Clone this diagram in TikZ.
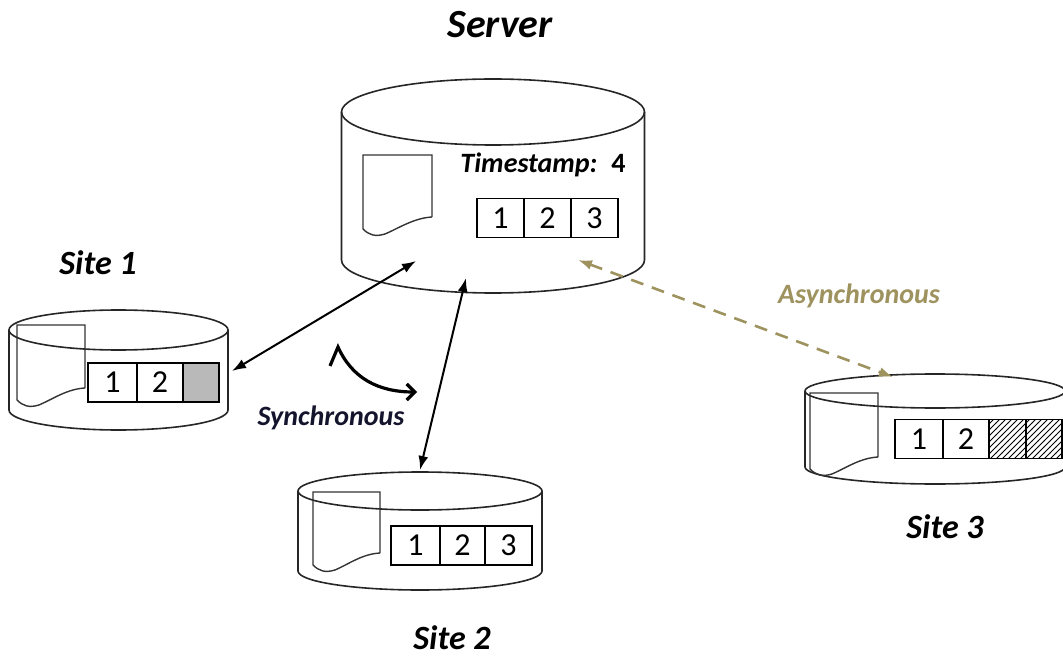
\documentclass[tikz,border=0pt]{standalone}
\usepackage{fontspec}
\setmainfont{Carlito}
\usetikzlibrary{arrows.meta,positioning,patterns}
\definecolor{asyncolive}{RGB}{158,146,94}
\definecolor{syncink}{RGB}{20,20,45}

% cylinder: centre x, top centre y, x radius, y radius, bottom centre y
\newcommand{\drum}[5]{%
  \draw[drumline] (#1-#3,#2) -- (#1-#3,#5)
    arc[start angle=180, end angle=0, x radius=#3, y radius=#4] -- (#1+#3,#2);
  \draw[drumline] (#1,#2) ellipse[x radius=#3, y radius=#4];}
% document sheet: left, top, right, lower right corner y
\newcommand{\sheet}[4]{%
  \draw[sheetline] (#3,#4) -- (#3,#2) -- (#1,#2) -- (#1,#4+12)
    .. controls (#1+6,#4+18) and (#1+12,#4+20) .. (#1+22,#4+17)
    .. controls (#1+36,#4+11) and (#3-18,#4+1) .. (#3,#4);}

\begin{document}
\begin{tikzpicture}[
  x=0.5pt, y=-0.5pt,
  drumline/.style={draw=black!85, line width=0.8pt},
  sheetline/.style={draw=black!80, line width=0.7pt},
  cell/.style={draw=black, line width=0.6pt, outer sep=0pt, inner sep=0pt, minimum height=19.5pt, font=\fontsize{16}{16}\selectfont},
  sitename/.style={anchor=base, inner sep=1pt, font=\fontsize{17}{17}\selectfont\bfseries\itshape},
  syncline/.style={{Latex[length=7pt,width=5pt]}-{Latex[length=7pt,width=5pt]}, line width=1pt, draw=black},
  asyncline/.style={{Latex[length=7pt,width=5pt]}-{Latex[length=7pt,width=5pt]}, line width=1.3pt, draw=asyncolive, dash pattern=on 6.5pt off 4.5pt},
  bendline/.style={-{Straight Barb[length=4pt,width=8pt]}, line width=1.6pt, draw=black}
]
\useasboundingbox (0,0) rectangle (1063,657);

% server
\drum{493}{112}{151.5}{33}{260}
\sheet{363}{155}{432}{217}
\node[anchor=base, font=\fontsize{14}{14}\selectfont\bfseries] (stamp) at (543,173) {\textit{Timestamp:}\enspace 4};
\node[cell, minimum width=23.5pt] (srv1) at (500.5,218) {1};
\node[cell, minimum width=23.5pt, right=0pt of srv1] (srv2) {2};
\node[cell, minimum width=23.5pt, right=0pt of srv2] (srv3) {3};
\node[sitename, font=\fontsize{20}{20}\selectfont\bfseries\itshape] (srvname) at (500,38) {Server};

% site 1
\drum{118.5}{330}{109.5}{20}{410}
\sheet{17}{325}{85}{388}
\node[cell, minimum width=24.5pt] (a1) at (112.5,382.5) {1};
\node[cell, minimum width=23pt, right=0pt of a1] (a2) {2};
\node[cell, minimum width=18pt, fill=gray!55, right=0pt of a2] (a3) {};
\node[sitename] (s1name) at (98,275) {Site 1};

% site 2
\drum{420}{491}{122}{19}{571}
\sheet{313}{492}{380}{553}
\node[cell, minimum width=24.5pt] (b1) at (415.5,545.5) {1};
\node[cell, minimum width=22.5pt, right=0pt of b1] (b2) {2};
\node[cell, minimum width=23.5pt, right=0pt of b2] (b3) {3};
\node[sitename] (s2name) at (452,649) {Site 2};

% site 3
\drum{935}{391}{130}{17}{467}
\sheet{810}{393}{878}{457}
\node[cell, minimum width=24pt] (c1) at (919,439) {1};
\node[cell, minimum width=23pt, right=0pt of c1] (c2) {2};
\node[cell, minimum width=18.5pt, pattern=north east lines, right=0pt of c2] (c3) {};
\node[cell, minimum width=18pt, pattern=north east lines, right=0pt of c3] (c4) {};
\node[sitename] (s3name) at (945,538) {Site 3};

% links
\coordinate (s1port) at (232,371);
\coordinate (srvsw) at (416,261);
\coordinate (srvs) at (466,278);
\coordinate (s2top) at (420,470);
\coordinate (srvse) at (578,260);
\coordinate (s3top) at (893,377);
\draw[syncline] (s1port) -- (srvsw);
\draw[syncline] (srvs) -- (s2top);
\draw[asyncline] (srvse) -- (s3top);

\coordinate (hookstart) at (330,366);
\coordinate (hookpeak) at (338,347);
\coordinate (hookend) at (417,392);
\draw[bendline] (hookstart) -- (hookpeak) .. controls (352,378) and (378,392) .. (hookend);
\node[anchor=base, font=\fontsize{14}{14}\selectfont\bfseries\itshape, text=syncink] (syncname) at (331,425) {Synchronous};
\node[anchor=base, font=\fontsize{14}{14}\selectfont\bfseries\itshape, text=asyncolive] (asyncname) at (859,303) {Asynchronous};

\end{tikzpicture}
\end{document}
